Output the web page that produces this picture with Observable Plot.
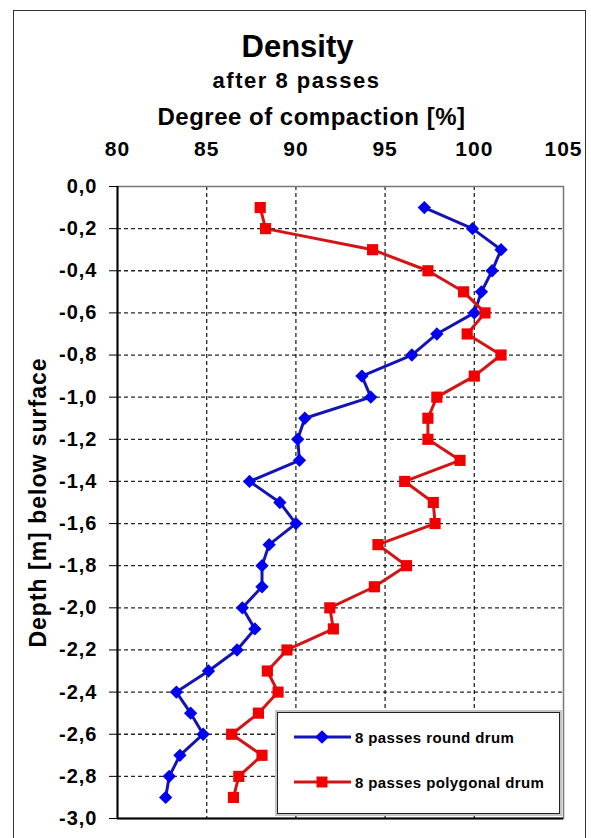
<!DOCTYPE html>
<html>
<head>
<meta charset="utf-8">
<script src="https://cdn.jsdelivr.net/npm/d3@7"></script>
<script src="https://cdn.jsdelivr.net/npm/@observablehq/plot@0.6"></script>
<style>
  html, body { margin: 0; padding: 0; background: #fff; }
  body { width: 591px; height: 838px; position: relative; overflow: hidden;
         font-family: "Liberation Sans", Arial, sans-serif; color: #000; }
  #frame { position: absolute; left: 13px; top: 10px; width: 571px; height: 860px;
           border: 1px solid #333; pointer-events: none; }
  #header { position: relative; height: 130px; }
  .t { position: absolute; left: 0; width: 591px; text-align: center; font-weight: bold;
       white-space: nowrap; line-height: 1; }
  #chart { position: relative; }
  .chart text { letter-spacing: 1px; }
  #legend { position: absolute; left: 277px; top: 712px; width: 281px; height: 100px;
            border: 1px solid #222; background: #fff; box-shadow: 0 0 0 2px #c4c4c4; }
  .row { position: absolute; left: 15px; height: 20px; display: flex; align-items: center; }
  .row span { font-weight: bold; font-size: 15px; letter-spacing: 0.4px; margin-left: 2px; }
</style>
</head>
<body>
<div id="header">
  <div class="t" id="title" style="font-size:31px; top:31px; left:2px;"></div>
  <div class="t" id="subtitle" style="font-size:22px; top:70px; left:1px; letter-spacing:1.5px;"></div>
  <div class="t" id="xlabel" style="font-size:24px; top:105px; left:16px; letter-spacing:0.5px;"></div>
</div>
<div id="chart"></div>
<div id="legend"></div>
<div id="frame"></div>
<script>
// ---- data ----
const titleText = "Density";
const subtitleText = "after 8 passes";
const xLabel = "Degree of compaction [%]";
const yLabel = "Depth [m] below surface";
const seriesNames = ["8 passes round drum", "8 passes polygonal drum"];

const depth = [-0.1, -0.2, -0.3, -0.4, -0.5, -0.6, -0.7, -0.8, -0.9, -1.0,
               -1.1, -1.2, -1.3, -1.4, -1.5, -1.6, -1.7, -1.8, -1.9, -2.0,
               -2.1, -2.2, -2.3, -2.4, -2.5, -2.6, -2.7, -2.8, -2.9];

const roundDrum = [97.2, 99.9, 101.5, 101.0, 100.4, 100.0, 97.9, 96.5, 93.7, 94.2,
                   90.5, 90.1, 90.2, 87.4, 89.1, 90.0, 88.5, 88.1, 88.1, 87.0,
                   87.7, 86.7, 85.1, 83.3, 84.1, 84.8, 83.5, 82.9, 82.7];

const polygonalDrum = [88.0, 88.3, 94.3, 97.4, 99.4, 100.6, 99.6, 101.5, 100.0, 97.9,
                       97.4, 97.4, 99.2, 96.1, 97.7, 97.8, 94.6, 96.2, 94.4, 91.9,
                       92.1, 89.5, 88.4, 89.0, 87.9, 86.4, 88.1, 86.8, 86.5];

const xTicks = [80, 85, 90, 95, 100, 105];
const yTicks = [0, -0.2, -0.4, -0.6, -0.8, -1.0, -1.2, -1.4, -1.6, -1.8,
                -2.0, -2.2, -2.4, -2.6, -2.8, -3.0];

// ---- build ----
document.getElementById("title").textContent = titleText;
document.getElementById("subtitle").textContent = subtitleText;
document.getElementById("xlabel").textContent = xLabel;

const rows = vals => depth.map((d, i) => ({depth: d, value: vals[i]}));
const roundRows = rows(roundDrum);
const polyRows = rows(polygonalDrum);
const fmtY = d => (Math.abs(d) < 1e-9 ? "0,0" : d.toFixed(1).replace(".", ","));

const blueLine = "#1414b4", blueFill = "#0000f0";
const redLine = "#d41414", redFill = "#f00000";
const gridStyle = {stroke: "#000", strokeOpacity: 0.85, strokeDasharray: "4,3", strokeWidth: 1.3};

const chart = Plot.plot({
  width: 591,
  height: 708,
  marginTop: 56,
  marginBottom: 20,
  marginLeft: 117,
  marginRight: 28,
  className: "chart",
  style: {fontFamily: "'Liberation Sans', Arial, sans-serif", fontWeight: "bold", color: "#000",
          background: "transparent", overflow: "visible"},
  x: {domain: [80, 105], ticks: xTicks},
  y: {domain: [-3, 0], ticks: yTicks},
  marks: [
    Plot.gridX(xTicks.slice(1, -1), gridStyle),
    Plot.gridY(yTicks.slice(1, -1), gridStyle),
    Plot.frame({stroke: "#777", strokeWidth: 1.5}),
    Plot.ruleX([80], {stroke: "#000", strokeWidth: 2}),
    Plot.ruleY([-3], {stroke: "#000", strokeWidth: 2}),
    Plot.axisX(xTicks, {anchor: "top", tickSize: 0, tickPadding: 31, fontSize: 21,
                        tickFormat: d => String(d), label: null}),
    Plot.axisY(yTicks, {anchor: "left", tickSize: 8, tickPadding: 12, fontSize: 20,
                        tickFormat: fmtY, label: null, stroke: "#000"}),
    Plot.text([yLabel], {text: d => d, frameAnchor: "left", textAnchor: "middle", lineAnchor: "middle",
                         rotate: -90, dx: -79, fontSize: 23, fontWeight: "bold"}),
    Plot.line(roundRows, {x: "value", y: "depth", stroke: blueLine, strokeWidth: 3}),
    Plot.dot(roundRows, {x: "value", y: "depth", symbol: "diamond2", r: 6, fill: blueFill}),
    Plot.line(polyRows, {x: "value", y: "depth", stroke: redLine, strokeWidth: 3}),
    Plot.dot(polyRows, {x: "value", y: "depth", symbol: "square", r: 6.3, fill: redFill})
  ]
});
document.getElementById("chart").appendChild(chart);

// ---- legend ----
const legend = document.getElementById("legend");
const legendItems = [
  {name: seriesNames[0], line: blueLine, fill: blueFill, sym: d3.symbolDiamond2, top: 14},
  {name: seriesNames[1], line: redLine, fill: redFill, sym: d3.symbolSquare, top: 59}
];
for (const it of legendItems) {
  const row = document.createElement("div");
  row.className = "row";
  row.style.top = it.top + "px";
  const path = d3.symbol(it.sym, 120)();
  row.innerHTML = `<svg width="60" height="20"><line x1="1" x2="58" y1="10" y2="10" stroke="${it.line}" stroke-width="3"/>` +
    `<path transform="translate(29,10)" d="${path}" fill="${it.fill}"/></svg><span></span>`;
  row.querySelector("span").textContent = it.name;
  legend.appendChild(row);
}
</script>
</body>
</html>
